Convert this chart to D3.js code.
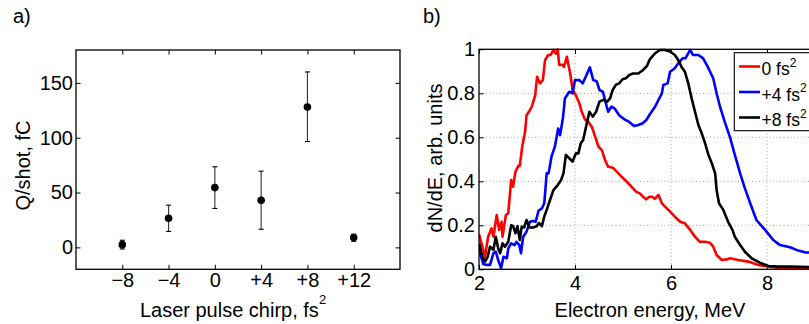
<!DOCTYPE html>
<html><head><meta charset="utf-8">
<script src="https://cdn.jsdelivr.net/npm/d3@7"></script>
<style>
body{margin:0;background:#fff;}
text{font-family:"Liberation Sans",Arial,Helvetica,sans-serif;fill:#000;}
</style></head>
<body>
<svg id="chart" width="809" height="324"></svg>
<script>
// ---------- Panel a data ----------
const chirp = [-8, -4, 0, 4, 8, 12];
const chirpTickLabels = ["\u22128", "\u22124", "0", "+4", "+8", "+12"];
const charge = [2.5, 26.5, 54.5, 43, 128, 9];
const chargeLow = [-1.5, 14.5, 35.5, 16.5, 96.5, 5.5];
const chargeHigh = [6.5, 38.5, 73.5, 69.5, 160, 12];
const chargeTicks = [0, 50, 100, 150];

// ---------- Panel b data ----------
const energy0 = [2.00,2.125,2.19,2.26,2.30,2.37,2.42,2.47,2.49,2.56,2.61,2.67,2.71,2.76,2.82,2.85,2.90,2.96,2.99,3.04,3.10,3.17,3.21,3.27,3.33,3.375,3.44,3.49,3.55,3.60,3.64,3.67,3.74,3.77,3.83,3.90,3.95,4.02,4.09,4.14,4.21,4.28,4.35,4.42,4.49,4.56,4.625,4.69,4.79,4.87,4.97,5.08,5.18,5.27,5.35,5.42,5.48,5.55,5.61,5.66,5.74,5.81,5.875,5.98,6.08,6.19,6.29,6.40,6.50,6.60,6.71,6.81,6.88,6.95,7.06,7.16,7.23,7.40,7.61,7.82,8.03,8.31,8.65,9.0];
const dnde0 = [0.16,0.057,0.148,0.186,0.148,0.247,0.179,0.216,0.148,0.247,0.255,0.406,0.376,0.444,0.47,0.47,0.557,0.625,0.70,0.716,0.74,0.79,0.875,0.845,0.86,0.95,0.974,0.974,0.997,0.98,1.0,0.93,0.93,0.92,0.966,0.89,0.815,0.79,0.755,0.716,0.68,0.67,0.648,0.603,0.557,0.542,0.497,0.466,0.462,0.444,0.421,0.398,0.375,0.353,0.345,0.33,0.318,0.33,0.33,0.32,0.338,0.30,0.285,0.262,0.239,0.216,0.209,0.179,0.148,0.125,0.125,0.121,0.103,0.065,0.042,0.045,0.05,0.042,0.035,0.02,0.012,0.005,0.005,0.005];

const energy4 = [2.00,2.09,2.16,2.23,2.30,2.35,2.40,2.46,2.51,2.58,2.61,2.67,2.74,2.78,2.84,2.875,2.92,2.99,3.06,3.13,3.18,3.24,3.31,3.36,3.41,3.45,3.51,3.58,3.65,3.69,3.75,3.79,3.83,3.88,3.95,4.00,4.09,4.16,4.24,4.31,4.38,4.45,4.51,4.58,4.625,4.69,4.76,4.83,4.92,5.04,5.13,5.23,5.32,5.41,5.49,5.56,5.67,5.74,5.81,5.84,5.93,5.98,6.08,6.15,6.24,6.30,6.40,6.46,6.57,6.67,6.78,6.88,6.95,7.02,7.125,7.23,7.33,7.44,7.54,7.65,7.78,7.96,8.13,8.27,8.48,8.65,8.79,9.0];
const dnde4 = [0.088,0.024,0.02,0.02,0.073,0.08,0.042,0.005,0.057,0.05,0.095,0.118,0.11,0.125,0.11,0.073,0.148,0.171,0.216,0.22,0.216,0.266,0.277,0.30,0.436,0.436,0.512,0.557,0.64,0.61,0.69,0.777,0.79,0.807,0.80,0.86,0.86,0.845,0.883,0.918,0.86,0.855,0.815,0.807,0.77,0.716,0.74,0.73,0.70,0.68,0.67,0.651,0.656,0.664,0.68,0.705,0.74,0.77,0.80,0.838,0.845,0.898,0.914,0.936,0.959,0.959,0.997,0.974,0.974,0.959,0.914,0.868,0.80,0.74,0.667,0.60,0.52,0.436,0.368,0.30,0.224,0.179,0.133,0.11,0.10,0.085,0.077,0.075];

const energy8 = [2.00,2.07,2.125,2.18,2.23,2.30,2.35,2.40,2.44,2.49,2.54,2.61,2.67,2.71,2.76,2.80,2.85,2.89,2.94,2.99,3.05,3.13,3.20,3.25,3.31,3.36,3.41,3.48,3.55,3.64,3.71,3.76,3.81,3.88,3.95,4.02,4.07,4.12,4.17,4.23,4.30,4.37,4.44,4.51,4.59,4.67,4.73,4.785,4.85,4.92,4.99,5.06,5.13,5.21,5.32,5.42,5.50,5.56,5.67,5.77,5.875,5.98,6.08,6.15,6.22,6.29,6.36,6.43,6.50,6.57,6.64,6.71,6.78,6.85,6.92,6.95,7.00,7.09,7.19,7.28,7.33,7.44,7.54,7.68,7.85,8.03,8.24,8.5,9.0];
const dnde8 = [0.118,0.057,0.035,0.057,0.103,0.088,0.148,0.095,0.073,0.118,0.103,0.125,0.20,0.196,0.164,0.196,0.133,0.194,0.19,0.224,0.19,0.19,0.196,0.21,0.196,0.24,0.27,0.315,0.36,0.383,0.406,0.436,0.52,0.505,0.49,0.527,0.527,0.573,0.588,0.648,0.716,0.694,0.716,0.762,0.77,0.762,0.777,0.815,0.838,0.845,0.864,0.868,0.883,0.89,0.89,0.906,0.925,0.955,0.982,0.997,0.997,0.99,0.974,0.951,0.92,0.898,0.845,0.777,0.716,0.656,0.618,0.573,0.52,0.482,0.436,0.36,0.30,0.27,0.216,0.179,0.148,0.11,0.08,0.05,0.03,0.015,0.012,0.012,0.01];

const seriesNames = ["0 fs", "+4 fs", "+8 fs"];
const seriesColors = ["#ff0000", "#0000ff", "#000000"];
const energyTicks = [2, 4, 6, 8];
const dndeTicks = [0, 0.2, 0.4, 0.6, 0.8, 1];
const dndeTickLabels = ["0", "0.2", "0.4", "0.6", "0.8", "1"];

const svg = d3.select("#chart");
const FS = 20;

// ================= Panel a =================
const A = {l: 76, r: 400, t: 50, b: 269.3};
const xa = d3.scaleLinear().domain([-12, 16]).range([A.l, A.r]);
const ya = d3.scaleLinear().domain([-20, 180]).range([A.b, A.t]);
const ga = svg.append("g");
const TL = 4.5;

function styleAxis(g){
  g.select(".domain").remove();
  g.selectAll(".tick line").attr("stroke", "#000").attr("stroke-width", 1);
  g.selectAll(".tick text").style("font-size", FS + "px").style("font-family", "Liberation Sans, Arial, sans-serif").attr("fill", "#000");
}
// bottom
ga.append("g").attr("transform", `translate(0,${A.b})`)
  .call(d3.axisBottom(xa).tickValues(chirp).tickFormat((d,i)=>chirpTickLabels[i]).tickSizeInner(-TL).tickSizeOuter(0).tickPadding(3.5))
  .call(styleAxis);
ga.append("g").attr("transform", `translate(0,${A.t})`)
  .call(d3.axisTop(xa).tickValues(chirp).tickFormat("").tickSizeInner(-TL).tickSizeOuter(0))
  .call(styleAxis);
ga.append("g").attr("transform", `translate(${A.l},0)`)
  .call(d3.axisLeft(ya).tickValues(chargeTicks).tickFormat(d3.format("d")).tickSizeInner(-TL).tickSizeOuter(0).tickPadding(3))
  .call(styleAxis);
ga.append("g").attr("transform", `translate(${A.r},0)`)
  .call(d3.axisRight(ya).tickValues(chargeTicks).tickFormat("").tickSizeInner(-TL).tickSizeOuter(0))
  .call(styleAxis);
ga.append("rect").attr("x", A.l).attr("y", A.t).attr("width", A.r - A.l).attr("height", A.b - A.t)
  .attr("fill", "none").attr("stroke", "#000").attr("stroke-width", 1.3);

const pts = chirp.map((c,i)=>({c, q: charge[i], lo: chargeLow[i], hi: chargeHigh[i]}));
const eb = ga.append("g");
eb.selectAll("line.v").data(pts).join("line").attr("class","v")
  .attr("x1", d=>xa(d.c)).attr("x2", d=>xa(d.c)).attr("y1", d=>ya(d.lo)).attr("y2", d=>ya(d.hi))
  .attr("stroke", "#333").attr("stroke-width", 1.1);
["lo","hi"].forEach(k=>{
  eb.selectAll("line."+k).data(pts).join("line").attr("class",k)
    .attr("x1", d=>xa(d.c)-2.5).attr("x2", d=>xa(d.c)+2.5).attr("y1", d=>ya(d[k])).attr("y2", d=>ya(d[k]))
    .attr("stroke", "#000").attr("stroke-width", 1.1);
});
eb.selectAll("circle").data(pts).join("circle")
  .attr("cx", d=>xa(d.c)).attr("cy", d=>ya(d.q)).attr("r", 3.8).attr("fill", "#000");

// labels
svg.append("text").attr("x", 13).attr("y", 23).style("font-size", FS+"px").text("a)");
const xla = svg.append("text").attr("x", (A.l + A.r)/2 - 5).attr("y", 316.5).attr("text-anchor", "middle").style("font-size", FS+"px");
xla.append("tspan").text("Laser pulse chirp, fs");
xla.append("tspan").attr("dy", -13).style("font-size", "13px").text("2");
svg.append("text").attr("transform", `translate(30,165.5) rotate(-90)`).attr("text-anchor", "middle").style("font-size", FS+"px").text("Q/shot, fC");

// ================= Panel b =================
const B = {l: 479, r: 815, t: 49.3, b: 269.3};
const xb = d3.scaleLinear().domain([2, 9]).range([B.l, B.r]);
const yb = d3.scaleLinear().domain([0, 1]).range([B.b, B.t]);
const gb = svg.append("g");

// grid
gb.append("g").selectAll("line").data(energyTicks.filter(d=>d>2)).join("line")
  .attr("x1", d=>xb(d)).attr("x2", d=>xb(d)).attr("y1", B.t).attr("y2", B.b)
  .attr("stroke", "#a0a0a0").attr("stroke-width", 1).attr("stroke-dasharray", "1,2.5");
gb.append("g").selectAll("line").data(dndeTicks.filter(d=>d>0 && d<1)).join("line")
  .attr("x1", B.l).attr("x2", B.r).attr("y1", d=>yb(d)).attr("y2", d=>yb(d))
  .attr("stroke", "#a0a0a0").attr("stroke-width", 1).attr("stroke-dasharray", "1,2.5");

gb.append("g").attr("transform", `translate(0,${B.b})`)
  .call(d3.axisBottom(xb).tickValues(energyTicks).tickFormat(d3.format("d")).tickSizeInner(-TL).tickSizeOuter(0).tickPadding(7))
  .call(styleAxis);
gb.append("g").attr("transform", `translate(0,${B.t})`)
  .call(d3.axisTop(xb).tickValues(energyTicks).tickFormat("").tickSizeInner(-TL).tickSizeOuter(0))
  .call(styleAxis);
gb.append("g").attr("transform", `translate(${B.l},0)`)
  .call(d3.axisLeft(yb).tickValues(dndeTicks).tickFormat((d,i)=>dndeTickLabels[i]).tickSizeInner(-TL).tickSizeOuter(0).tickPadding(4))
  .call(styleAxis);

const clip = svg.append("defs").append("clipPath").attr("id", "clipb");
clip.append("rect").attr("x", B.l).attr("y", B.t - 2).attr("width", B.r - B.l).attr("height", B.b - B.t + 2);

const line = d3.line().x(d=>xb(d[0])).y(d=>yb(d[1]));
const series = [
  energy0.map((e,i)=>[e, dnde0[i]]),
  energy4.map((e,i)=>[e, dnde4[i]]),
  energy8.map((e,i)=>[e, dnde8[i]])
];
const lg = gb.append("g").attr("clip-path", "url(#clipb)");
series.forEach((s,i)=>{
  lg.append("path").datum(s).attr("d", line).attr("fill", "none")
    .attr("stroke", seriesColors[i]).attr("stroke-width", 2.6).attr("stroke-linejoin", "round");
});

gb.append("rect").attr("x", B.l).attr("y", B.t).attr("width", B.r - B.l).attr("height", B.b - B.t)
  .attr("fill", "none").attr("stroke", "#000").attr("stroke-width", 1.3);

// legend
const leg = gb.append("g");
leg.append("rect").attr("x", 734.3).attr("y", 52.7).attr("width", 90).attr("height", 78)
  .attr("fill", "#fff").attr("stroke", "#000").attr("stroke-width", 1.1);
const legY = [66.5, 92, 117.5];
seriesNames.forEach((n,i)=>{
  leg.append("line").attr("x1", 739).attr("x2", 760).attr("y1", legY[i]).attr("y2", legY[i])
    .attr("stroke", seriesColors[i]).attr("stroke-width", 2.6);
  const t = leg.append("text").attr("x", 761.5).attr("y", legY[i] + 8.5).style("font-size", "17.5px");
  t.append("tspan").text(n);
  t.append("tspan").attr("dy", -8.5).style("font-size", "12px").text("2");
});

svg.append("text").attr("x", 423).attr("y", 23).style("font-size", FS+"px").text("b)");
svg.append("text").attr("x", 650).attr("y", 316.5).attr("text-anchor", "middle").style("font-size", FS+"px").text("Electron energy, MeV");
svg.append("text").attr("transform", `translate(442,158) rotate(-90)`).attr("text-anchor", "middle").style("font-size", FS+"px").text("dN/dE, arb. units");
</script>
</body></html>
